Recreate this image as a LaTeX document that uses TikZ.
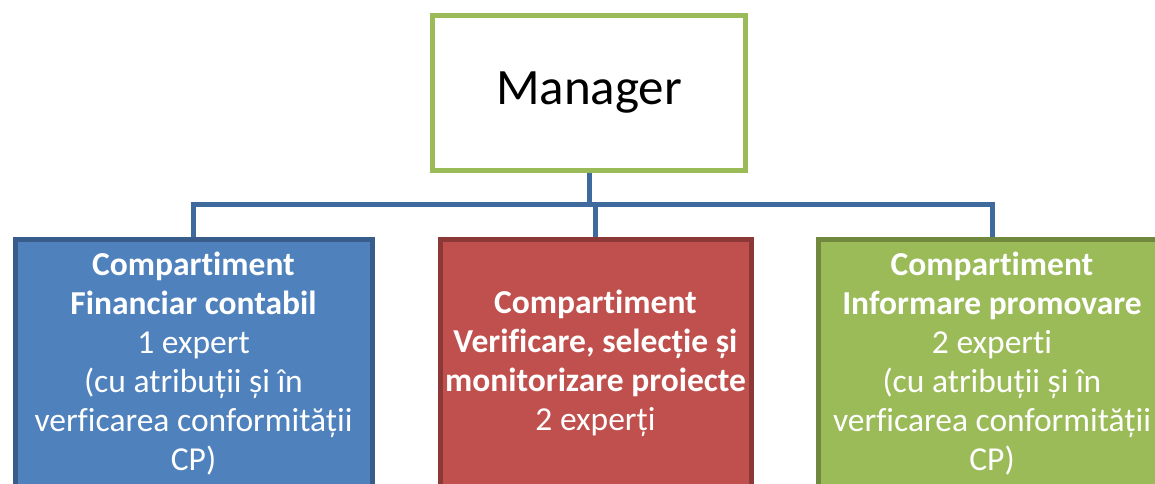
\documentclass[tikz,border=0pt]{standalone}
\usepackage{fontspec}
\setmainfont{Carlito}[Ligatures=NoCommon]
\definecolor{mgrgreen}{HTML}{9BBB59}
\definecolor{connblue}{HTML}{3F6A9E}
\definecolor{bfill}{HTML}{4F81BD}
\definecolor{bline}{HTML}{385D8A}
\definecolor{rfill}{HTML}{C0504D}
\definecolor{rline}{HTML}{8C3836}
\definecolor{gfill}{HTML}{9BBB59}
\definecolor{gline}{HTML}{71893F}
\tikzset{
  conn/.style={draw=connblue, line width=5pt},
  unitbox/.style={rectangle, line width=5pt, minimum height=300pt, inner sep=0pt, anchor=north},
  boxtext/.style={text=white, anchor=base, inner sep=0pt, font=\fontsize{33.5}{39}\selectfont},
}
\begin{document}
\begin{tikzpicture}[x=1pt,y=-1pt]
\useasboundingbox (0,0) rectangle (1155,483);
\clip (0,0) rectangle (1155,483);
\fill[white] (0,0) rectangle (1155,483);

\node[draw=mgrgreen, fill=white, line width=5pt, minimum width=313pt, minimum height=155pt, inner sep=0pt,
      font=\fontsize{51}{60}\selectfont] (mgr) at (589,92.5) {\raisebox{-3pt}{Manager}};

\coordinate (bus) at (589.5,204.5);
\coordinate (rtop) at (992.5,236.5);

\node[unitbox, minimum width=357.5pt] (bl) at (193.75,236.5) {};
\node[unitbox, minimum width=311.5pt] (bc) at (595.75,236.5) {};
\node[unitbox, minimum width=338.5pt] (br) at (987.75,236.5) {};

\draw[conn] (mgr.south) -- (mgr.south |- bus);
\draw[conn] (bl.north) |- (bus) -| (rtop);
\draw[conn] (bc.north) -- (bc.north |- bus);

\node[unitbox, draw=bline, fill=bfill, minimum width=357.5pt] at (193.75,236.5) {};
\node[unitbox, draw=rline, fill=rfill, minimum width=311.5pt] at (595.75,236.5) {};
\node[unitbox, draw=gline, fill=gfill, minimum width=338.5pt] at (987.75,236.5) {};

\node[boxtext] (tl) at (193.5,275) {\begin{tabular}[t]{@{}c@{}}\bfseries Compartiment\\ \bfseries Financiar contabil\\ 1 expert\\ (cu atribuții și în\\ verficarea conformității\\ CP)\end{tabular}};
\node[boxtext] (tc) at (595.5,313) {\begin{tabular}[t]{@{}c@{}}\bfseries Compartiment\\ \bfseries Verificare, selecție și\\ \bfseries monitorizare proiecte\\ 2 experți\end{tabular}};
\node[boxtext] (tr) at (992,275) {\begin{tabular}[t]{@{}c@{}}\bfseries Compartiment\\ \bfseries Informare promovare\\ 2 experti\\ (cu atribuții și în\\ verficarea conformității\\ CP)\end{tabular}};
\end{tikzpicture}
\end{document}
